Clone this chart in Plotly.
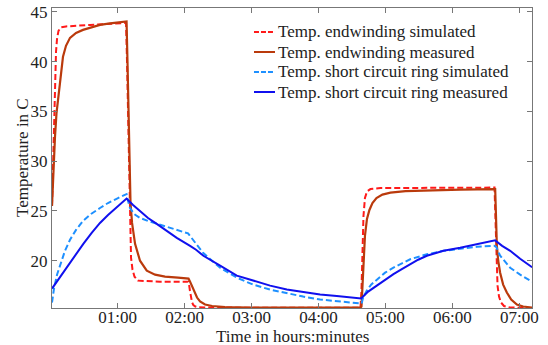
import plotly.graph_objects as go

# ---------------- data (time in hours, temperature in C) ----------------
tick_vals = [1, 2, 3, 4, 5, 6, 7]
tick_text = ["01:00", "02:00", "03:00", "04:00", "05:00", "06:00", "07:00"]
y_tick_vals = [20, 25, 30, 35, 40, 45]

ew_sim_t = [0.018, 0.033, 0.048, 0.063, 0.078, 0.093, 0.115, 0.152, 0.227, 0.586, 0.96, 1.124,
            1.139, 1.154, 1.169, 1.184, 1.199, 1.221, 1.251, 1.303, 1.632, 2.051,
            2.068, 2.081, 2.096, 2.111, 2.13, 2.16, 2.2, 2.3, 3.0, 4.0, 4.627,
            4.642, 4.657, 4.672, 4.694, 4.724, 4.776, 4.925, 5.8, 6.57, 6.63,
            6.645, 6.66, 6.675, 6.697, 6.727, 6.772, 6.86, 7.19]
ew_sim_v = [25.5, 29.0, 34.0, 38.5, 41.0, 42.3, 43.1, 43.45, 43.55, 43.7, 43.85, 43.9,
            40.0, 34.5, 28.5, 22.5, 20.3, 19.1, 18.4, 18.0, 17.9, 17.9,
            17.5, 16.9, 16.2, 15.8, 15.55, 15.4, 15.32, 15.3, 15.28, 15.27, 15.27,
            17.0, 21.0, 24.5, 26.3, 26.95, 27.2, 27.3, 27.33, 27.35, 27.35,
            24.0, 19.5, 17.5, 16.4, 15.8, 15.45, 15.3, 15.25]

ew_meas_t = [0.018, 0.033, 0.048, 0.063, 0.085, 0.108, 0.138, 0.182, 0.227, 0.287, 0.377,
             0.481, 0.616, 0.735, 0.885, 0.99, 1.132,
             1.146, 1.161, 1.176, 1.191, 1.214, 1.259, 1.333, 1.434, 1.558, 1.707, 1.901, 2.058,
             2.081, 2.111, 2.148, 2.185, 2.23, 2.305, 2.41, 2.604, 2.978, 4.0, 4.63,
             4.642, 4.657, 4.672, 4.694, 4.724, 4.761, 4.806, 4.866, 4.955, 5.075, 5.3,
             5.67, 6.12, 6.63,
             6.64, 6.652, 6.665, 6.685, 6.714, 6.759, 6.814, 6.879, 6.964, 7.058, 7.19]
ew_meas_v = [25.5, 28.0, 30.5, 32.5, 34.8, 36.5, 37.9, 40.5, 41.6, 42.4, 42.9,
             43.2, 43.5, 43.7, 43.85, 43.95, 44.05,
             40.0, 34.0, 28.5, 25.8, 23.8, 21.7, 20.0, 19.0, 18.6, 18.4, 18.3, 18.2,
             17.9, 17.4, 16.8, 16.3, 15.9, 15.6, 15.45, 15.35, 15.3, 15.3, 15.3,
             15.4, 17.5, 20.0, 22.5, 24.2, 25.1, 25.8, 26.3, 26.65, 26.85, 27.0,
             27.1, 27.15, 27.2,
             27.2, 24.5, 21.5, 20.0, 18.8, 17.6, 16.8, 16.1, 15.6, 15.4, 15.3]

sc_sim_t = [0.018, 0.048, 0.093, 0.138, 0.212, 0.287, 0.377, 0.481, 0.601, 0.735, 0.855,
            0.99, 1.094, 1.132,
            1.154, 1.184, 1.244, 1.333, 1.453, 1.587, 1.722, 1.857, 1.976, 2.051,
            2.111, 2.18, 2.275, 2.383, 2.53, 2.78, 3.022, 3.277, 3.531, 3.77, 4.024,
            4.278, 4.622, 4.644,
            4.667, 4.722, 4.786, 4.871, 4.995, 5.12, 5.25, 5.37, 5.62, 5.87, 6.117,
            6.366, 6.625,
            6.655, 6.714, 6.789, 6.864, 7.013, 7.192]
sc_sim_v = [15.8, 17.2, 18.6, 19.6, 21.0, 22.1, 23.1, 24.0, 24.7, 25.3, 25.8,
            26.25, 26.6, 26.7,
            26.0, 25.3, 24.7, 24.3, 24.0, 23.7, 23.4, 23.15, 22.9, 22.75,
            22.2, 21.6, 20.8, 20.15, 19.3, 18.3, 17.6, 17.1, 16.7, 16.4, 16.1,
            15.95, 15.7, 15.7,
            16.3, 17.0, 17.6, 18.1, 18.8, 19.3, 19.75, 20.15, 20.65, 21.0, 21.2,
            21.4, 21.5,
            21.4, 20.5, 19.9, 19.3, 18.6, 17.9]

sc_meas_t = [0.018, 0.123, 0.238, 0.362, 0.486, 0.611, 0.735, 0.855, 0.985, 1.132,
             1.229, 1.333, 1.453, 1.583, 1.732, 1.882, 2.081, 2.17, 2.28, 2.395, 2.53,
             2.779, 3.027, 3.277, 3.526, 3.774, 4.024, 4.273, 4.637,
             4.742, 4.871, 4.996, 5.12, 5.245, 5.369, 5.489, 5.619, 5.867, 6.117, 6.366,
             6.639, 6.744, 6.864, 7.013, 7.192]
sc_meas_v = [17.2, 18.2, 19.4, 20.6, 21.7, 22.8, 23.8, 24.6, 25.4, 26.25,
             25.6, 25.0, 24.3, 23.7, 23.0, 22.3, 21.5, 21.1, 20.5, 20.0, 19.5,
             18.5, 18.0, 17.5, 17.1, 16.85, 16.6, 16.45, 16.2,
             16.9, 17.5, 18.1, 18.65, 19.15, 19.65, 20.1, 20.5, 21.0, 21.3, 21.65,
             22.05, 21.5, 21.0, 20.2, 19.35]

series_names = ["Temp. endwinding simulated", "Temp. endwinding measured",
                "Temp. short circuit ring simulated", "Temp. short circuit ring measured"]
series_colors = ["#FF1A1A", "#BA3A0C", "#1E90FF", "#1010EE"]
series_dash = ["6px,3px", "solid", "6px,3px", "solid"]
series_width = [2, 2.2, 2, 2]

# ---------------- figure ----------------
FONT = "Liberation Serif, Times New Roman, serif"
TXT = "#222"
FS = 17

fig = go.Figure()
data = [(ew_sim_t, ew_sim_v), (ew_meas_t, ew_meas_v), (sc_sim_t, sc_sim_v), (sc_meas_t, sc_meas_v)]
for (t, v), name, c, d, w in zip(data, series_names, series_colors, series_dash, series_width):
    fig.add_trace(go.Scatter(x=t, y=v, mode="lines", name=name,
                             line=dict(color=c, width=w, dash=d)))

axis_common = dict(showline=True, mirror="ticks", linecolor="#777", linewidth=1,
                   ticks="inside", ticklen=5, tickcolor="#777", showgrid=False,
                   zeroline=False, automargin=False, ticklabeloverflow="allow",
                   tickfont=dict(family=FONT, size=FS, color=TXT))
fig.update_xaxes(range=[0.018, 7.19], tickvals=tick_vals, ticktext=tick_text,
                 ticklabelstandoff=-6, **axis_common)
fig.update_yaxes(range=[15.25, 45.4], tickvals=y_tick_vals, **axis_common)

# axis titles
annotations = [
    dict(text="Time in hours:minutes", xref="paper", yref="paper", x=0.5, y=-0.095,
         xanchor="center", yanchor="middle", showarrow=False,
         font=dict(family=FONT, size=FS, color=TXT)),
    dict(text="Temperature in C", xref="paper", yref="paper", x=-0.0625, y=0.5,
         xanchor="center", yanchor="middle", textangle=-90, showarrow=False,
         font=dict(family=FONT, size=FS, color=TXT)),
]

# legend (drawn as text + short line samples, compact like the reference)
shapes = []
leg_y = [0.92, 0.8533, 0.7867, 0.72]
for name, c, d, w, yy in zip(series_names, series_colors, series_dash, series_width, leg_y):
    shapes.append(dict(type="line", xref="paper", yref="paper", x0=0.4208, x1=0.4646,
                       y0=yy, y1=yy, line=dict(color=c, width=2,
                                                dash=("5px,2px" if d != "solid" else "solid"))))
    annotations.append(dict(text=name, xref="paper", yref="paper", x=0.4667, y=yy,
                            xanchor="left", yanchor="middle", showarrow=False,
                            font=dict(family=FONT, size=FS, color=TXT)))

fig.update_layout(
    width=548, height=345,
    margin=dict(l=52, r=16, t=8, b=37, autoexpand=False),
    paper_bgcolor="white", plot_bgcolor="white",
    font=dict(family=FONT, size=FS, color=TXT),
    showlegend=False,
    annotations=annotations,
    shapes=shapes,
)
# remove the default 8px page margin so the 548x345 figure fills the window exactly
fig.write_html("out.html", config={"displayModeBar": False},
               post_script="document.body.style.margin='0px';")
